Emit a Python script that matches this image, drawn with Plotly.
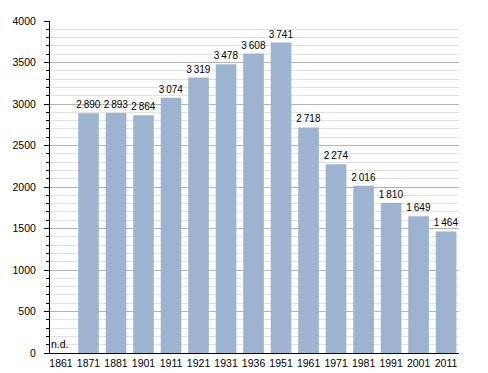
import plotly.graph_objects as go

years = ["1861", "1871", "1881", "1901", "1911", "1921", "1931", "1936", "1951", "1961", "1971", "1981", "1991", "2001", "2011"]
population = [0, 2890, 2893, 2864, 3074, 3319, 3478, 3608, 3741, 2718, 2274, 2016, 1810, 1649, 1464]
value_labels = ["", "2\u2009890", "2\u2009893", "2\u2009864", "3\u2009074", "3\u2009319", "3\u2009478", "3\u2009608",
                "3\u2009741", "2\u2009718", "2\u2009274", "2\u2009016", "1\u2009810", "1\u2009649", "1\u2009464"]
minor_ticks = [v for v in range(100, 4000, 100) if v % 500 != 0]

FONT = "Liberation Sans, Arial, sans-serif"

fig = go.Figure()
fig.add_trace(go.Bar(
    x=years, y=population, text=value_labels, textposition="outside", constraintext="none",
    textfont=dict(size=10, color="black", family=FONT),
    marker=dict(color="#9cb4cf", line=dict(width=0)),
    cliponaxis=False, hoverinfo="x+y", width=0.75,
))
# invisible helper trace so the minor-grid axis is drawn
fig.add_trace(go.Scatter(x=[years[0]], y=[0], yaxis="y2", mode="markers",
                         marker=dict(opacity=0), hoverinfo="skip", showlegend=False))
fig.add_annotation(x=0, y=0, xref="x", yref="y", text="n.d.", showarrow=False, xanchor="center", yanchor="bottom",
                   xshift=-1, yshift=1, font=dict(size=10.5, color="black", family=FONT))

# page body has an 8px margin, so the figure is 8px smaller and margins compensate
fig.update_layout(
    width=480, height=365, margin=dict(l=42, r=29, t=13, b=20),
    plot_bgcolor="white", paper_bgcolor="white", showlegend=False,
    font=dict(family=FONT, size=10.5, color="black"),
    yaxis2=dict(overlaying="y", side="left", range=[0, 4000], tickmode="array", tickvals=minor_ticks,
                showticklabels=False, ticks="outside", ticklen=3, tickcolor="black",
                showgrid=True, gridcolor="#e2e2e2", gridwidth=1, zeroline=False, showline=False,
                automargin=False),
)
fig.update_xaxes(type="category", range=[-0.4, 14.47], showline=True, linecolor="black", linewidth=1,
                 ticks="", showgrid=False, tickfont=dict(size=10.5), automargin=False)
fig.layout.yaxis.update(range=[0, 4000], dtick=500, showline=True, linecolor="black",
                        linewidth=1, ticks="outside", ticklen=5, tickcolor="black", gridcolor="#b4b4b4",
                        gridwidth=1, zeroline=False, tickfont=dict(size=10.5), automargin=False,
                        ticklabelstandoff=6)
fig.write_html("out.html")
